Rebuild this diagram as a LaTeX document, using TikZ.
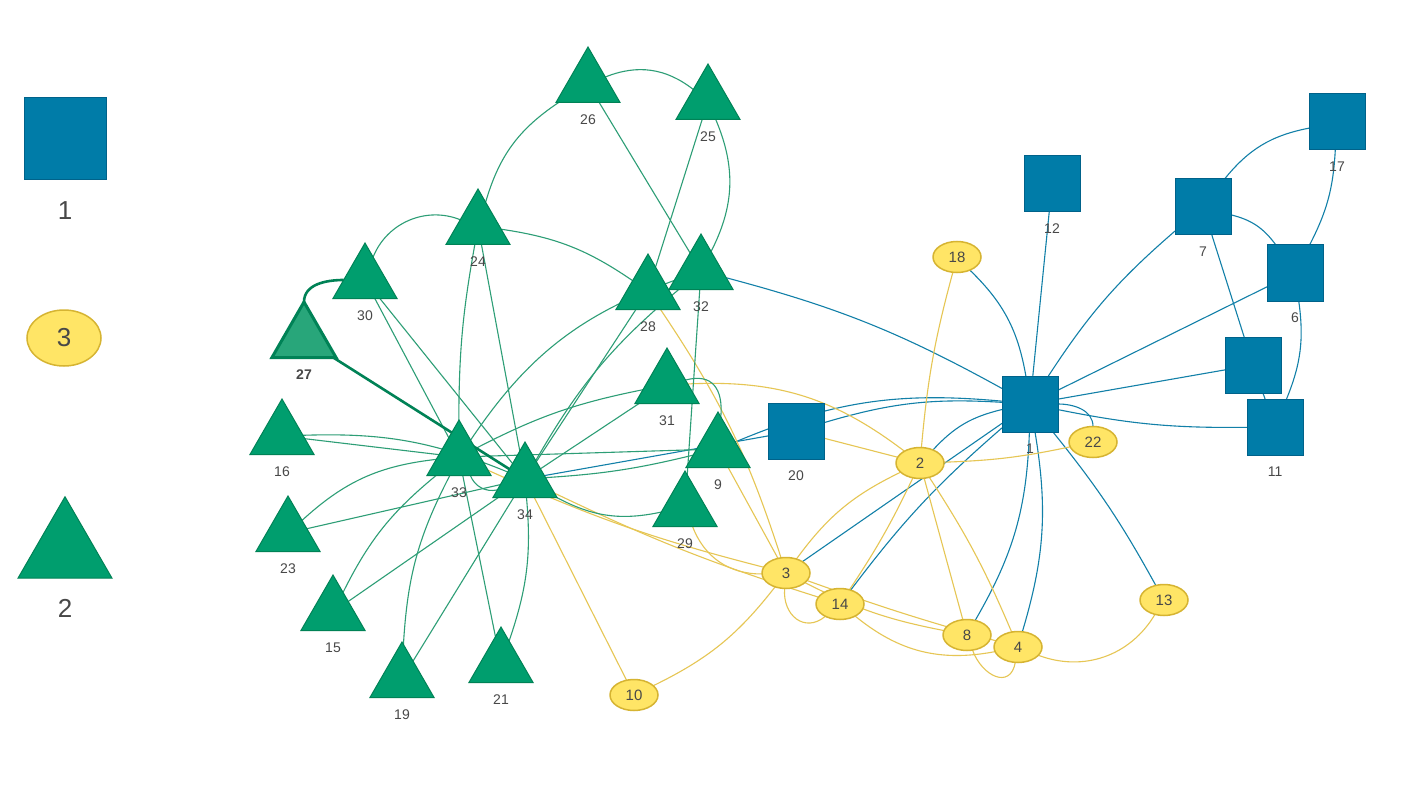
\documentclass[tikz,border=0pt]{standalone}
\usepackage{fontspec}
\setmainfont{Liberation Sans}
\usetikzlibrary{shapes.geometric,backgrounds}
\definecolor{cblue}{RGB}{0,124,168}
\definecolor{cblueD}{RGB}{0,98,138}
\definecolor{cyel}{RGB}{255,229,102}
\definecolor{cyelD}{RGB}{214,180,50}
\definecolor{cgrn}{RGB}{0,158,110}
\definecolor{cgrnD}{RGB}{0,130,86}
\definecolor{cgrnL}{RGB}{40,166,122}
\definecolor{eblue}{RGB}{18,128,168}
\definecolor{egrn}{RGB}{45,158,118}
\definecolor{eyel}{RGB}{230,198,84}
\definecolor{ctxt}{RGB}{72,72,72}

\begin{document}
\begin{tikzpicture}[x=1pt,y=1pt,
    sq/.style={rectangle, draw=cblueD, fill=cblue, line width=1pt, minimum size=56pt, inner sep=0pt, outer sep=0pt},
    ov/.style={ellipse, draw=cyelD, fill=cyel, line width=1.5pt, minimum width=48pt, minimum height=31pt, inner sep=1pt, outer sep=0pt, text=ctxt, font=\fontsize{15}{15}\selectfont},
    tri/.style={regular polygon, regular polygon sides=3, draw=cgrnD, fill=cgrn, line width=1pt, minimum size=74pt, inner sep=0pt, outer sep=0pt},
    lbl/.style={text=ctxt, inner sep=0pt, yshift=-12pt, font=\fontsize{14}{14}\selectfont},
    big/.style={text=ctxt, inner sep=0pt, yshift=-21pt, font=\fontsize{26}{26}\selectfont},
    be/.style={draw=eblue, line width=1.1pt},
    ye/.style={draw=eyel, line width=1.1pt},
    ge/.style={draw=egrn, line width=1.1pt},
    gthick/.style={draw=cgrnD, line width=2.6pt}]
\useasboundingbox (0,0) rectangle (1404,-794);

% legend
\node[sq, minimum size=82pt, label={[big]below:1}] (lg1) at (65,-139) {};
\node[ov, minimum width=74pt, minimum height=56pt, font=\fontsize{26}{26}\selectfont] (lg3) at (64,-338) {3};
\node[tri, minimum size=108.5pt, label={[big]below:2}] (lg2) at (65,-551) {};

% group 1
\node[sq] (n5) at (1253,-365) {};
\foreach \n/\x/\y in {12/1052/184,7/1203/207,17/1337/122,6/1295/273,11/1275/427,20/796/431,1/1030/404}
  \node[sq, label={[lbl]below:\n}] (n\n) at (\x,-\y) {};

% group 2
\node[tri, fill=cgrnL, line width=3pt, label={[lbl, font=\bfseries\fontsize{14}{14}\selectfont]below:27}] (n27) at (304,-339) {};
\foreach \n/\x/\y in {26/588/84,25/708/101,24/478/226,30/365/280,32/701/271,28/648/291,31/667/385,16/282/436,9/718/449,33/459/457,34/525/479,29/685/508,23/288/533,15/333/612,21/501/664,19/402/679}
  \node[tri, label={[lbl]below:\n}] (n\n) at (\x,-\y) {};

% group 3
\foreach \n/\x/\y in {18/957/257,22/1093/442,2/920/463,3/786/573,14/840/604,8/967/635,4/1018/647,13/1164/600,10/634/695}
  \node[ov] (n\n) at (\x,-\y) {\n};

\begin{scope}[on background layer]
\fill[white] (0,0) rectangle (1404,-794);
% edges, coloured by their first member
\foreach \a/\b/\k in {1/2/-17,1/3/0,1/4/13,1/5/0,1/6/0,1/7/8,1/8/14,1/9/-14,1/20/-10,1/11/-6,1/12/0,1/13/5,1/14/-6,1/18/-18,1/32/-7,5/7/0,5/11/0,7/6/20,6/11/15,6/17/-12,7/17/20,20/34/0}
  \draw[be] (n\a) to[bend left=\k] (n\b);
\draw[be] (n1) to[out=0,in=90] (n22);
\foreach \a/\b/\k in {2/3/-14,2/4/5,2/8/0,2/14/4,2/18/5,2/20/0,2/22/-5,2/31/-20,3/4/-2,3/8/-8,3/9/0,3/10/13,3/28/-8,3/29/35,3/33/5,4/13/-40,14/4/-25,10/34/0,34/14/-4}
  \draw[ye] (n\a) to[bend left=\k] (n\b);
\draw[ye] (n3) to[out=-95,in=-140,looseness=1.4] (n14);
\draw[ye] (n8) to[out=-70,in=-100,looseness=1.6] (n4);
\foreach \a/\b/\k in {9/33/0,34/9/-5,15/33/12,15/34/0,16/33/0,16/34/12,19/33/12,19/34/0,21/33/0,21/34/-12,23/33/18,23/34/0,24/26/20,24/28/13,30/24/45,24/33/-5,24/34/0,26/25/30,25/28/0,25/32/25,26/32/0,28/34/0,29/32/0,34/29/-20,30/33/0,30/34/0,33/31/8,31/34/0,33/32/18,34/32/10,33/34/-40}
  \draw[ge] (n\a) to[bend left=\k] (n\b);
\draw[ge] (n31) to[out=15,in=85,looseness=1.4] (n9);
\draw[gthick] (n27) to[out=90,in=180] (n30);
\draw[gthick] (n27) -- (n34);
\end{scope}
\end{tikzpicture}
\end{document}
